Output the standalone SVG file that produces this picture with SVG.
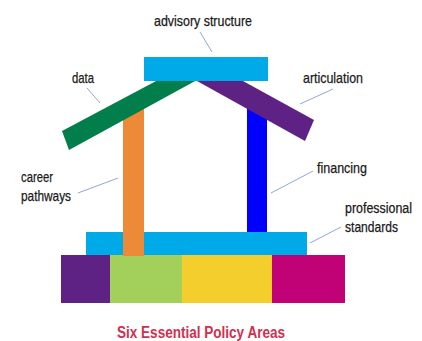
<svg xmlns="http://www.w3.org/2000/svg" width="422" height="341" viewBox="0 0 422 341">
<style>
.lbl{font-family:"Liberation Sans",Arial,sans-serif;font-size:15px;fill:#1a1a1a;stroke:#1a1a1a;stroke-width:0.25;}
.ttl{font-family:"Liberation Sans",Arial,sans-serif;font-size:16px;font-weight:bold;fill:#D0304F;}
.lead{stroke:#8FA8D4;stroke-width:1;fill:none;}
</style>
<rect width="422" height="341" fill="#fff"/>
<g id="blocks">
<rect x="61" y="255" width="49" height="48" fill="#5E2284"/>
<rect x="110" y="255" width="72" height="48" fill="#A2D05A"/>
<rect x="182" y="255" width="90" height="48" fill="#F3CE2C"/>
<rect x="272" y="255" width="73" height="48" fill="#C10277"/>
</g>
<g id="financing-pillar"><rect x="247" y="105" width="20" height="128" fill="#0000FF"/></g>
<g id="base"><rect x="86" y="232" width="221" height="23" fill="#00AAE8"/></g>
<g id="career-pillar"><rect x="123" y="105" width="21" height="151" fill="#EC8A38"/></g>
<g id="data-beam"><polygon points="62,131 158,80 197,80 69,150" fill="#027E4C"/></g>
<g id="articulation-beam"><polygon points="197,81 243,81 314,120 305,141" fill="#5E2284"/></g>
<g id="advisory"><rect x="144" y="57" width="124" height="24" fill="#00AAE8"/></g>
<g id="connectors">
<line class="lead" x1="200" y1="32" x2="212" y2="52"/>
<line class="lead" x1="87" y1="88" x2="100" y2="103"/>
<line class="lead" x1="333" y1="89" x2="300" y2="104"/>
<line class="lead" x1="78" y1="193" x2="118" y2="178"/>
<line class="lead" x1="313" y1="171" x2="271" y2="193"/>
<line class="lead" x1="341" y1="227" x2="310" y2="243"/>
</g>
<g id="labels">
<text class="lbl" x="154" y="26" textLength="98" lengthAdjust="spacingAndGlyphs">advisory structure</text>
<text class="lbl" x="72" y="83" textLength="22" lengthAdjust="spacingAndGlyphs">data</text>
<text class="lbl" x="303" y="83" textLength="60" lengthAdjust="spacingAndGlyphs">articulation</text>
<text class="lbl" x="21" y="182" textLength="32" lengthAdjust="spacingAndGlyphs">career</text>
<text class="lbl" x="21" y="201" textLength="50" lengthAdjust="spacingAndGlyphs">pathways</text>
<text class="lbl" x="317" y="173" textLength="50" lengthAdjust="spacingAndGlyphs">financing</text>
<text class="lbl" x="345" y="213" style="font-size:14px" textLength="67" lengthAdjust="spacingAndGlyphs">professional</text>
<text class="lbl" x="345" y="232" textLength="53" lengthAdjust="spacingAndGlyphs">standards</text>
<text class="ttl" x="117" y="338" textLength="168" lengthAdjust="spacingAndGlyphs">Six Essential Policy Areas</text>
</g>
</svg>
